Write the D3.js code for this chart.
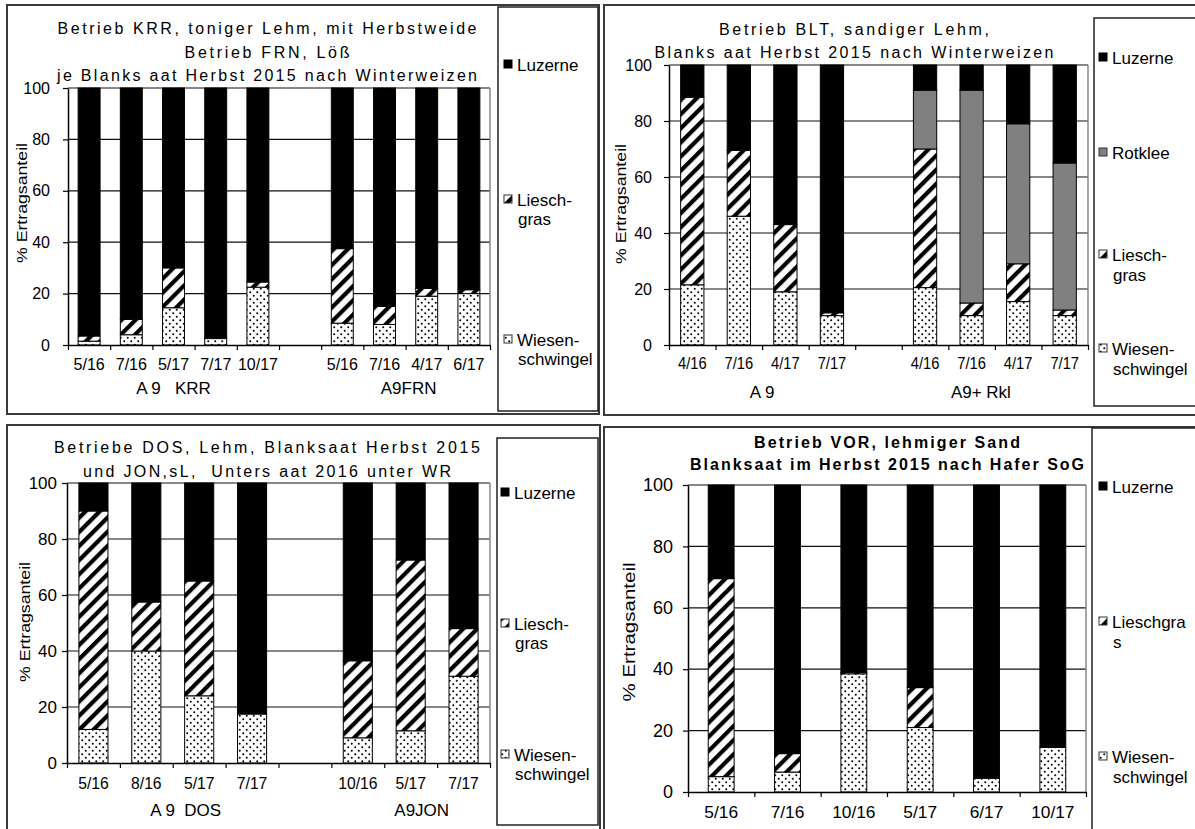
<!DOCTYPE html>
<html><head><meta charset="utf-8">
<script src="https://cdn.jsdelivr.net/npm/d3@7"></script>
<style>
body{margin:0;background:#fff;}
svg{display:block;font-family:"Liberation Sans",Arial,sans-serif;}
svg text{white-space:pre;}
</style></head><body>
<svg id="c" width="1195" height="829"></svg>
<script>
// Ertragsanteile (%) je Schnitttermin, Reihenfolge im Stapel: Wiesenschwingel, Lieschgras, Rotklee, Luzerne
const krrDates = ["5/16","7/16","5/17","7/17","10/17"];
const krrWiesen = [1.5, 4, 14.5, 2.5, 22.5];
const krrLiesch = [2, 6, 15.5, 0.5, 2];
const krrLuzerne = [96.5, 90, 70, 97, 75.5];

const frnDates = ["5/16","7/16","4/17","6/17"];
const frnWiesen = [8.5, 8, 19, 20];
const frnLiesch = [29, 7, 3, 1.5];
const frnLuzerne = [62.5, 85, 78, 78.5];

const bltDates = ["4/16","7/16","4/17","7/17"];
const bltWiesen = [21.5, 46, 19, 10.5];
const bltLiesch = [67, 23.5, 24, 1];
const bltLuzerne = [11.5, 30.5, 57, 88.5];

const bltRklDates = ["4/16","7/16","4/17","7/17"];
const bltRklWiesen = [20.5, 10.5, 15.5, 10.5];
const bltRklLiesch = [49.5, 4.5, 13.5, 2];
const bltRklRotklee = [21, 76, 50, 52.5];
const bltRklLuzerne = [9, 9, 21, 35];

const dosDates = ["5/16","8/16","5/17","7/17"];
const dosWiesen = [12, 40, 24, 17.5];
const dosLiesch = [78, 17.5, 41, 0];
const dosLuzerne = [10, 42.5, 35, 82.5];

const jonDates = ["10/16","5/17","7/17"];
const jonWiesen = [9, 11.5, 31];
const jonLiesch = [27.5, 61, 17];
const jonLuzerne = [63.5, 27.5, 52];

const vorDates = ["5/16","7/16","10/16","5/17","6/17","10/17"];
const vorWiesen = [5, 6.5, 38.5, 21, 4.5, 14.5];
const vorLiesch = [64.5, 6, 0.5, 13, 0, 0];
const vorLuzerne = [30.5, 87.5, 61, 66, 95.5, 85.5];

const yTicks = [0, 20, 40, 60, 80, 100];
const yTitle = "% Ertragsanteil";

const titleKrr = ["Betrieb KRR, toniger Lehm, mit Herbstweide", "Betrieb FRN, Löß", "je Blanks aat Herbst 2015 nach Winterweizen"];
const titleBlt = ["Betrieb BLT, sandiger Lehm,", "Blanks aat Herbst 2015 nach Winterweizen"];
const titleDos = ["Betriebe DOS, Lehm, Blanksaat Herbst 2015", "und JON,sL,  Unters aat 2016 unter WR"];
const titleVor = ["Betrieb VOR, lehmiger Sand", "Blanksaat im Herbst 2015 nach Hafer SoG"];

const legLuzerne = ["Luzerne"];
const legRotklee = ["Rotklee"];
const legLiesch = ["Liesch-", "gras"];
const legLieschVor = ["Lieschgra", "s"];
const legWiesen = ["Wiesen-", "schwingel"];

const stackKeys = ["Wiesenschwingel", "Lieschgras", "Rotklee", "Luzerne"];

const svg = d3.select("#c");
const defs = svg.append("defs");

// Schraffur (Lieschgras)
const hatch = defs.append("pattern").attr("id", "hatch").attr("patternUnits", "userSpaceOnUse")
  .attr("width", 10).attr("height", 10).attr("patternTransform", "rotate(45)");
hatch.append("rect").attr("width", 10).attr("height", 10).attr("fill", "#fff");
hatch.append("rect").attr("width", 4.2).attr("height", 10).attr("fill", "#000");

// Punktraster (Wiesenschwingel)
const dots = defs.append("pattern").attr("id", "dots").attr("patternUnits", "userSpaceOnUse")
  .attr("width", 7).attr("height", 7);
dots.append("rect").attr("width", 7).attr("height", 7).attr("fill", "#fff");
dots.append("circle").attr("cx", 1.75).attr("cy", 1.75).attr("r", 1).attr("fill", "#000");
dots.append("circle").attr("cx", 5.25).attr("cy", 5.25).attr("r", 1).attr("fill", "#000");

const fills = {Wiesenschwingel: "url(#dots)", Lieschgras: "url(#hatch)", Rotklee: "#808080", Luzerne: "#000"};

function txt(g, x, y, s, o = {}) {
  const t = g.append("text")
    .attr("transform", `translate(${x},${y})` + (o.rot ? ` rotate(${o.rot})` : "") + (o.kx ? ` scale(${o.kx},1)` : ""))
    .attr("text-anchor", o.anchor || "middle")
    .attr("font-size", o.fs || 16)
    .attr("fill", "#000")
    .text(s);
  if (o.bold) t.attr("font-weight", "bold");
  if (o.len) t.attr("textLength", o.len).attr("lengthAdjust", o.adj || "spacing");
  return t;
}

const panels = [
  {
    frame: [7, 5, 592, 409], legendBox: [498, 7, 100, 404],
    plot: [68, 490, 88, 345], barRatio: 0.52,
    groups: [
      {label: "A 9   KRR", dx: 0, dates: krrDates, W: krrWiesen, L: krrLiesch, Luz: krrLuzerne},
      {label: "A9FRN", dx: 3, dates: frnDates, W: frnWiesen, L: frnLiesch, Luz: frnLuzerne}
    ],
    title: titleKrr, titleX: 267, titleY: [34, 58, 81], titleLen: [419, 165, 420], bold: false,
    yTitle: {x: 22, y: 203, len: 120, fs: 15},
    yPad: 13, yFs: 16, xTickY: 370, xTickFs: 16, xTickKx: 1, groupY: 394, groupFs: 17,
    legend: [
      {key: "Luzerne", lines: legLuzerne, y: 71},
      {key: "Lieschgras", lines: legLiesch, y: 206},
      {key: "Wiesenschwingel", lines: legWiesen, y: 346}
    ], legX: 504, legFs: 17, legLine: 19
  },
  {
    frame: [604, 5, 600, 410], legendBox: [1094, 18, 120, 388],
    plot: [669, 1088, 65, 345], barRatio: 0.5,
    groups: [
      {label: "A 9", dx: 0, dates: bltDates, W: bltWiesen, L: bltLiesch, Luz: bltLuzerne},
      {label: "A9+ Rkl", dx: -14, dates: bltRklDates, W: bltRklWiesen, L: bltRklLiesch, R: bltRklRotklee, Luz: bltRklLuzerne}
    ],
    title: titleBlt, titleX: 854, titleY: [35, 58], titleLen: [270, 399], bold: false,
    yTitle: {x: 621, y: 204, len: 120, fs: 15},
    yPad: 12, yFs: 16, xTickY: 369, xTickFs: 16, xTickKx: 0.92, groupY: 398, groupFs: 17,
    legend: [
      {key: "Luzerne", lines: legLuzerne, y: 64},
      {key: "Rotklee", lines: legRotklee, y: 159},
      {key: "Lieschgras", lines: legLiesch, y: 261},
      {key: "Wiesenschwingel", lines: legWiesen, y: 355}
    ], legX: 1099, legFs: 17, legLine: 20
  },
  {
    frame: [7, 425, 593, 410], legendBox: [497, 438, 101, 387],
    plot: [67, 490, 483, 763], barRatio: 0.55,
    groups: [
      {label: "A 9  DOS", dx: 13, dates: dosDates, W: dosWiesen, L: dosLiesch, Luz: dosLuzerne},
      {label: "A9JON", dx: 11, dates: jonDates, W: jonWiesen, L: jonLiesch, Luz: jonLuzerne}
    ],
    title: titleDos, titleX: 267, titleY: [453, 477], titleLen: [426, 368], bold: false,
    yTitle: {x: 25, y: 622, len: 120, fs: 15},
    yPad: 5, yFs: 17, xTickY: 789, xTickFs: 16, xTickKx: 0.98, groupY: 816, groupFs: 17,
    legend: [
      {key: "Luzerne", lines: legLuzerne, y: 499},
      {key: "Lieschgras", lines: legLiesch, y: 630},
      {key: "Wiesenschwingel", lines: legWiesen, y: 761}
    ], legX: 501, legFs: 17, legLine: 19
  },
  {
    frame: [604, 427, 600, 410], legendBox: [1092, 428, 120, 420],
    plot: [688, 1086, 485, 792], barRatio: 0.39,
    groups: [
      {label: "", dx: 0, dates: vorDates, W: vorWiesen, L: vorLiesch, Luz: vorLuzerne}
    ],
    title: titleVor, titleX: 887, titleY: [448, 470], titleLen: [266, 394], bold: true,
    yTitle: {x: 629, y: 632, len: 139, fs: 17},
    yPad: 10, yFs: 18, xTickY: 818, xTickFs: 17, xTickKx: 1.02, groupY: 0, groupFs: 17,
    legend: [
      {key: "Luzerne", lines: legLuzerne, y: 493},
      {key: "Lieschgras", lines: legLieschVor, y: 628},
      {key: "Wiesenschwingel", lines: legWiesen, y: 763}
    ], legX: 1099, legFs: 17, legLine: 20
  }
];

panels.forEach(p => {
  const g = svg.append("g");
  const [fx, fy, fw, fh] = p.frame;
  g.append("rect").attr("x", fx).attr("y", fy).attr("width", fw).attr("height", fh)
    .attr("fill", "#fff").attr("stroke", "#3a3a3a").attr("stroke-width", 2);
  const [lx, ly, lw, lh] = p.legendBox;
  g.append("rect").attr("x", lx).attr("y", ly).attr("width", lw).attr("height", lh)
    .attr("fill", "#fff").attr("stroke", "#222").attr("stroke-width", 1.5);

  const [x0, x1, y0, y1] = p.plot;

  // Kategorien: Gruppen mit einer Leerposition dazwischen
  const slots = [];
  const rows = [];
  p.groups.forEach((gr, gi) => {
    if (gi > 0) slots.push("gap" + gi);
    gr.dates.forEach((d, i) => {
      const key = gi + "|" + d;
      slots.push(key);
      rows.push({slot: key, date: d, group: gi,
        Wiesenschwingel: gr.W[i], Lieschgras: gr.L[i],
        Rotklee: gr.R ? gr.R[i] : 0, Luzerne: gr.Luz[i]});
    });
  });

  const x = d3.scaleBand().domain(slots).range([x0, x1])
    .paddingInner(1 - p.barRatio).paddingOuter((1 - p.barRatio) / 2);
  const y = d3.scaleLinear().domain([0, 100]).range([y1, y0]);
  const slotScale = d3.scaleLinear().domain([0, slots.length]).range([x0, x1]);

  // Gitterlinien
  g.append("g").selectAll("line").data(yTicks.filter(v => v > 0)).join("line")
    .attr("x1", x0).attr("x2", x1).attr("y1", d => y(d)).attr("y2", d => y(d))
    .attr("stroke", "#111").attr("stroke-width", 1.2);
  g.append("line").attr("x1", x1).attr("x2", x1).attr("y1", y0).attr("y2", y1)
    .attr("stroke", "#888").attr("stroke-width", 1.5);

  // gestapelte Säulen
  const series = d3.stack().keys(stackKeys)(rows);
  series.forEach(s => {
    g.append("g").selectAll("rect").data(s.filter(d => d[1] - d[0] > 0)).join("rect")
      .attr("x", d => x(d.data.slot)).attr("width", x.bandwidth())
      .attr("y", d => y(d[1])).attr("height", d => y(d[0]) - y(d[1]))
      .attr("fill", fills[s.key]).attr("stroke", "#000").attr("stroke-width", 1);
  });

  // Achsen
  const ya = g.append("g").attr("transform", `translate(${x0},0)`)
    .call(d3.axisLeft(y).tickValues(yTicks).tickSize(5).tickSizeOuter(0).tickPadding(p.yPad));
  ya.select(".domain").attr("stroke", "#000").attr("stroke-width", 1.5);
  ya.selectAll(".tick line").attr("stroke", "#000").attr("stroke-width", 1.2);
  ya.selectAll(".tick text").attr("font-size", p.yFs).attr("font-family", "Liberation Sans, Arial, sans-serif").attr("fill", "#000");

  const xa = g.append("g").attr("transform", `translate(0,${y1})`)
    .call(d3.axisBottom(slotScale).tickValues(d3.range(slots.length + 1)).tickSize(5).tickSizeOuter(0).tickFormat(""));
  xa.select(".domain").attr("stroke", "#000").attr("stroke-width", 1.5);
  xa.selectAll(".tick line").attr("stroke", "#000").attr("stroke-width", 1.2);

  // Datumsbeschriftung
  rows.forEach(r => {
    txt(g, x(r.slot) + x.bandwidth() / 2, p.xTickY, r.date, {fs: p.xTickFs, kx: p.xTickKx});
  });

  // Gruppenbeschriftung
  p.groups.forEach((gr, gi) => {
    if (!gr.label) return;
    const first = x(gi + "|" + gr.dates[0]);
    const last = x(gi + "|" + gr.dates[gr.dates.length - 1]) + x.bandwidth();
    txt(g, (first + last) / 2 + gr.dx, p.groupY, gr.label, {fs: p.groupFs});
  });

  // Titel
  p.title.forEach((t, i) => {
    txt(g, p.titleX, p.titleY[i], t, {fs: 16, len: p.titleLen[i], bold: p.bold});
  });

  // Achsentitel
  txt(g, p.yTitle.x, p.yTitle.y, yTitle, {rot: -90, fs: p.yTitle.fs, len: p.yTitle.len, adj: "spacingAndGlyphs"})
    .attr("dy", "0.35em");

  // Legende
  p.legend.forEach(e => {
    const sq = 8;
    g.append("rect").attr("x", p.legX).attr("y", e.y - 11).attr("width", sq).attr("height", sq)
      .attr("fill", fills[e.key]).attr("stroke", e.key === "Luzerne" ? "#000" : "#333").attr("stroke-width", 1);
    e.lines.forEach((l, i) => {
      txt(g, p.legX + 13 + (i > 0 ? 1 : 0), e.y + i * p.legLine, l, {fs: p.legFs, anchor: "start"});
    });
  });
});
</script></body></html>
